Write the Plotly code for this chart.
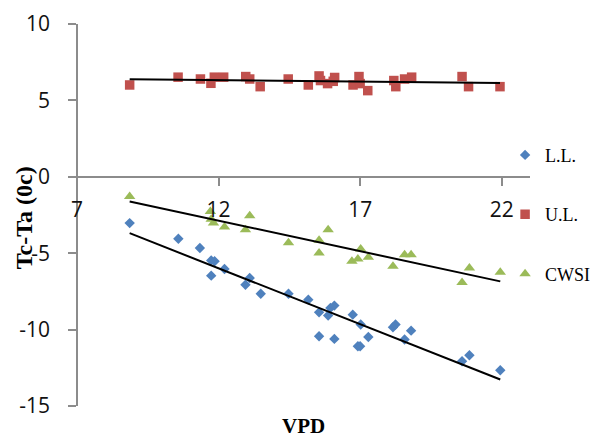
import numpy as np
import plotly.graph_objects as go

# VPD vs canopy-air temperature difference (Tc-Ta)
vpd_ll = [8.86, 10.58, 11.34, 11.74, 11.86, 11.74, 12.21, 12.95, 13.10, 13.49,
          14.47, 15.17, 15.55, 15.87, 15.95, 16.09, 15.55, 16.09, 16.74, 17.02,
          17.29, 16.92, 17.00, 18.16, 18.25, 18.57, 18.80, 20.60, 20.86, 21.95]
tcta_ll = [-3.03, -4.05, -4.66, -5.47, -5.53, -6.47, -6.03, -7.06, -6.62, -7.65,
           -7.65, -8.04, -8.87, -9.08, -8.58, -8.43, -10.44, -10.61, -9.02, -9.67,
           -10.48, -11.09, -11.09, -9.85, -9.67, -10.65, -10.07, -12.07, -11.68, -12.66]

vpd_ul = [8.86, 10.57, 11.36, 11.73, 11.85, 12.18, 12.96, 13.10, 13.47, 14.46,
          15.17, 15.55, 15.60, 15.85, 16.10, 16.05, 16.75, 16.96, 17.00, 17.27,
          18.19, 18.26, 18.57, 18.82, 20.60, 20.83, 21.94]
tcta_ul = [6.01, 6.52, 6.40, 6.12, 6.52, 6.52, 6.56, 6.40, 5.90, 6.40,
           6.01, 6.60, 6.30, 6.10, 6.50, 6.25, 6.01, 6.56, 6.10, 5.64,
           6.30, 5.90, 6.40, 6.52, 6.56, 5.90, 5.90]

vpd_cwsi = [8.86, 11.71, 11.74, 11.82, 12.21, 12.95, 13.10, 14.47, 15.55, 15.55,
            15.87, 16.71, 16.92, 17.02, 17.29, 18.16, 18.57, 18.80, 20.60, 20.86, 21.95]
tcta_cwsi = [-1.29, -2.27, -2.77, -3.03, -3.29, -3.46, -2.55, -4.31, -4.16, -4.99,
             -3.46, -5.53, -5.38, -4.73, -5.27, -5.86, -5.10, -5.10, -6.91, -5.97, -6.25]

x_ticks = [7, 12, 17, 22]
y_ticks = [10, 5, 0, -5, -10, -15]

series = [
    ("L.L.", vpd_ll, tcta_ll, "diamond", 8, "#4F81BD"),
    ("U.L.", vpd_ul, tcta_ul, "square", 9.5, "#C0504D"),
    ("CWSI", vpd_cwsi, tcta_cwsi, "triangle-up", 10, "#9BBB59"),
]

fig = go.Figure()
for name, xs, ys, sym, size, color in series:
    fig.add_trace(go.Scatter(
        x=xs, y=ys, mode="markers", name=name, legendgroup=name,
        marker=dict(symbol=sym, size=size, color=color, line=dict(width=0)),
    ))

# linear trend line for each series
for name, xs, ys, sym, size, color in series:
    slope, icpt = np.polyfit(xs, ys, 1)
    xl = np.array([min(xs), max(xs)])
    fig.add_trace(go.Scatter(
        x=xl, y=slope * xl + icpt, mode="lines", showlegend=False,
        line=dict(color="black", width=2), hoverinfo="skip",
    ))

axis_gray = "#8c8c8c"
tick_font = dict(family="Open Sans", size=21, color="#111111")
title_font = dict(family="Liberation Serif", color="black")

W, H = 608, 441
ML, MR, MT, MB = 77, 73, 24, 35
plot_w, plot_h = W - ML - MR, H - MT - MB

fig.update_layout(
    width=W, height=H,
    margin=dict(l=ML, r=MR, t=MT, b=MB),
    paper_bgcolor="white", plot_bgcolor="white",
    showlegend=True,
    legend=dict(
        x=0.945, xanchor="left", y=0.705, yanchor="top",
        font=dict(family="Liberation Serif", size=18, color="black"),
        tracegroupgap=33, bgcolor="rgba(0,0,0,0)",
    ),
    xaxis=dict(
        range=[7, 23], tickvals=x_ticks, ticktext=[str(v) for v in x_ticks],
        showgrid=False, zeroline=False, showline=True, linecolor=axis_gray, linewidth=1.5,
        ticks="outside", ticklen=8, tickcolor=axis_gray, tickwidth=1.5,
        tickfont=tick_font, ticklabelstandoff=6, automargin=False,
        anchor="free", position=0.6,
    ),
    yaxis=dict(
        range=[-15, 10], tickvals=y_ticks, ticktext=[str(v) for v in y_ticks],
        showgrid=False, zeroline=False, showline=True, linecolor=axis_gray, linewidth=1.5,
        ticks="outside", ticklen=8, tickcolor=axis_gray, tickwidth=1.5,
        tickfont=tick_font, ticklabelstandoff=14, automargin=False,
        anchor="free", position=0,
    ),
    annotations=[
        # x-axis title, sitting on the bottom edge of the figure
        dict(text="<b>VPD</b>", x=0.5, xref="paper",
             y=-(H - 1 - (MT + plot_h)) / plot_h, yref="paper",
             xanchor="center", yanchor="bottom", showarrow=False,
             font=dict(size=21, **title_font)),
        # y-axis title, centred 23 px from the left edge
        dict(text="<b>Tc-Ta (0c)</b>", x=(23 - ML) / plot_w, xref="paper",
             xanchor="center", y=0.493, yref="paper", yanchor="middle",
             textangle=-90, showarrow=False,
             font=dict(size=24, **title_font)),
    ],
)

fig.write_html("out.html")
